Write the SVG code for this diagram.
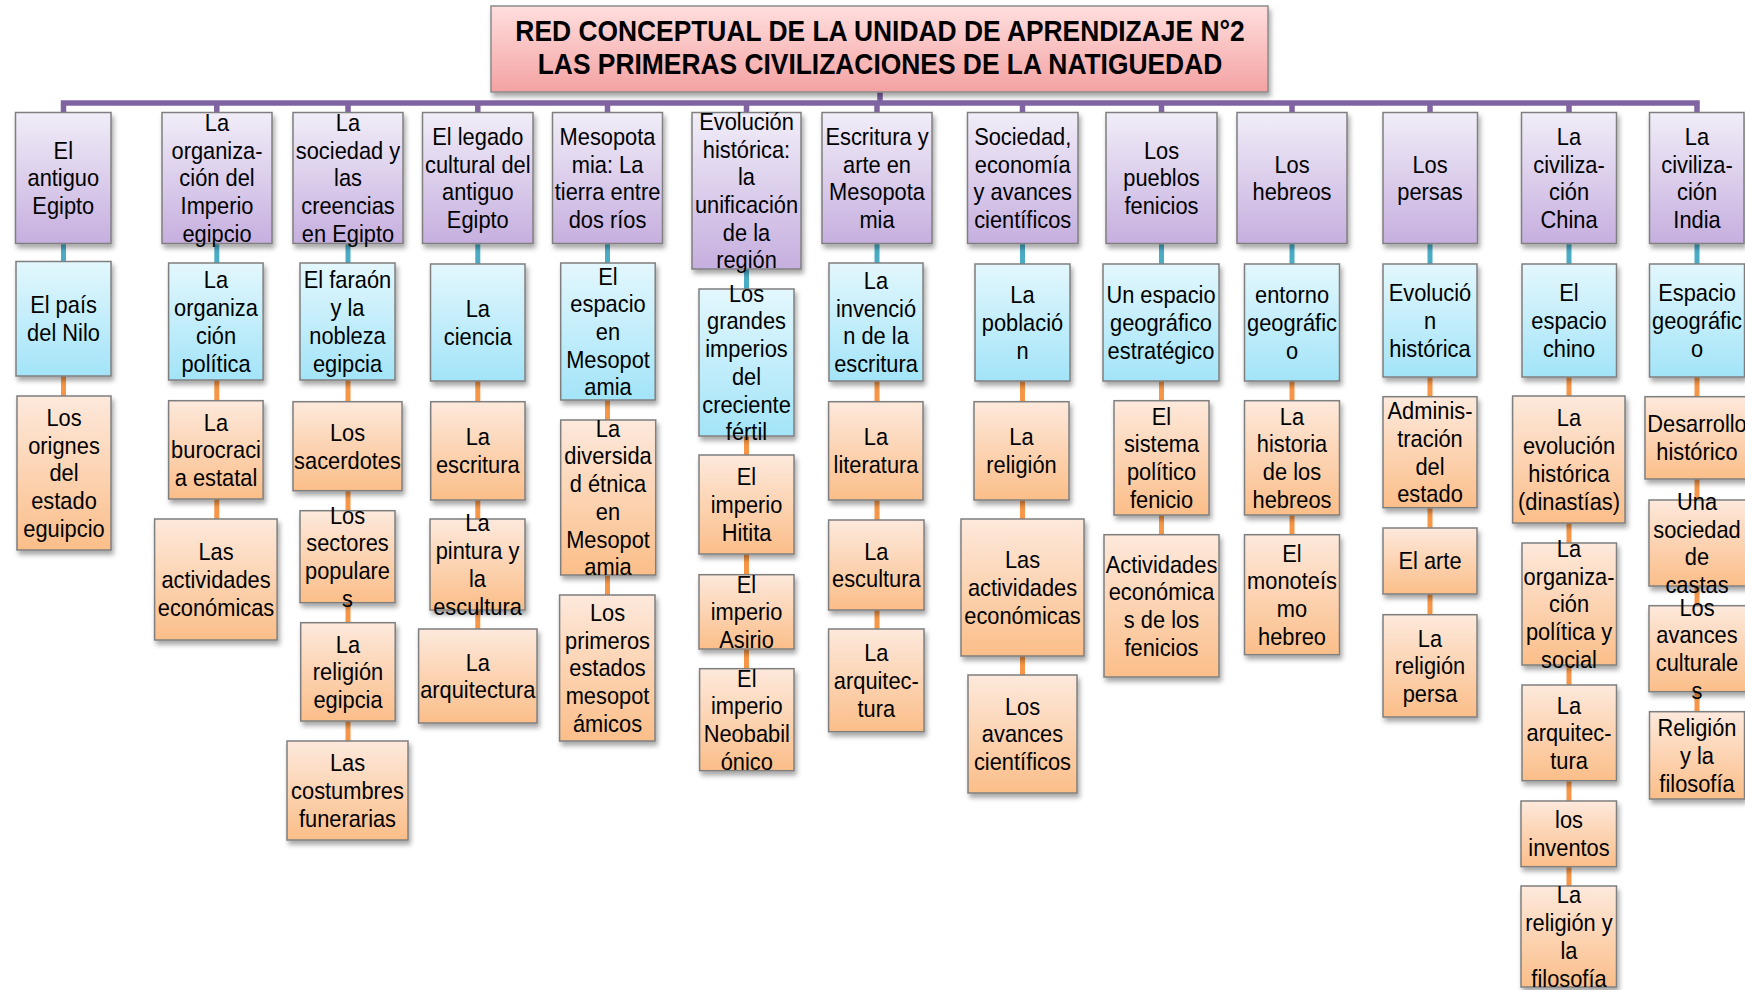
<svg xmlns="http://www.w3.org/2000/svg" width="1745" height="990" viewBox="0 0 1745 990">
<defs>
<linearGradient id="gr" x1="0" y1="0" x2="0" y2="1"><stop offset="0" stop-color="#FFDEDE"/><stop offset="1" stop-color="#F4A2A2"/></linearGradient>
<linearGradient id="gp" x1="0" y1="0" x2="0" y2="1"><stop offset="0" stop-color="#F1EDF8"/><stop offset="1" stop-color="#C6AFDF"/></linearGradient>
<linearGradient id="gc" x1="0" y1="0" x2="0" y2="1"><stop offset="0" stop-color="#E3F7FD"/><stop offset="1" stop-color="#A3E4F8"/></linearGradient>
<linearGradient id="go" x1="0" y1="0" x2="0" y2="1"><stop offset="0" stop-color="#FDE9DC"/><stop offset="1" stop-color="#FBBE89"/></linearGradient>
<filter id="sh" x="-20%" y="-20%" width="140%" height="140%"><feDropShadow dx="2" dy="4" stdDeviation="2.5" flood-color="#000" flood-opacity="0.35"/></filter>
</defs>
<style>
.r{fill:url(#gr);stroke:#8a8a8a;stroke-width:1.5;filter:url(#sh)}
.p{fill:url(#gp);stroke:#7f7f7f;stroke-width:1.5;filter:url(#sh)}
.c{fill:url(#gc);stroke:#7f7f7f;stroke-width:1.5;filter:url(#sh)}
.o{fill:url(#go);stroke:#7f7f7f;stroke-width:1.5;filter:url(#sh)}
.t{font-family:"Liberation Sans",Arial,sans-serif;font-size:24px;fill:#000;text-anchor:middle}
.ti{font-family:"Liberation Sans",Arial,sans-serif;font-size:29px;font-weight:bold;fill:#000;text-anchor:middle}
.lt{stroke:#4BACC6;stroke-width:5}
.lo{stroke:#F79646;stroke-width:5}
.lp{stroke:#8064A2;stroke-width:5.5;fill:none}
</style>
<rect width="1745" height="990" fill="#fff"/>
<g id="connectors">
<path class="lp" d="M880 92V103M63.5 113V103H1697V113M216.8 103V113M348 103V113M477.8 103V113M607.5 103V113M746.5 103V113M877 103V113M1022.5 103V113M1161.5 103V113M1292 103V113M1430 103V113M1569 103V113"/>
<path class="lt" d="M63.5 243V262M216.8 243V264M348 243V264M477.8 243V265M607.5 243V264M746.5 268V290M877 243V264M1022.5 243V265M1161.5 243V265M1292 243V265M1430 243V265M1569 243V265M1697 243V265"/>
<path class="lo" d="M63.5 375V397M216.8 379V401M216.8 498V520M348 379V402M348 490V511M348 602V623M348 720V742M477.8 380V402M477.8 499V520M477.8 609V630M607.5 399V421M607.5 574V596M746.5 435V456M746.5 553V575M746.5 648V669M877 380V402M877 499V521M877 609V630M1022.5 380V402M1022.5 499V520M1022.5 655V676M1161.5 380V401M1161.5 514V535M1292 380V401M1292 514V535M1430 376V397M1430 507V529M1430 593V615M1569 376V397M1569 522V544M1569 664V686M1569 780V802M1569 866V887M1697 376V397M1697 478V501M1697 585V606M1697 691V712"/>
</g>
<g id="title">
<rect class="r" x="491" y="6" width="777" height="86"/>
<text class="ti" transform="translate(880 0) scale(.91 1)"><tspan x="0" y="41.5">RED CONCEPTUAL DE LA UNIDAD DE APRENDIZAJE N°2</tspan><tspan x="0" y="74.5">LAS PRIMERAS CIVILIZACIONES DE LA NATIGUEDAD</tspan></text>
</g>
<g id="n1"><rect class="p" x="15.5" y="112.5" width="95.5" height="131"/><text class="t" transform="translate(63.3 0) scale(.91 1)"><tspan x="0" y="158.8">El</tspan><tspan x="0" dy="27.7">antiguo</tspan><tspan x="0" dy="27.7">Egipto</tspan></text></g>
<g id="n2"><rect class="p" x="162" y="112.5" width="110" height="131"/><text class="t" transform="translate(217 0) scale(.91 1)"><tspan x="0" y="131.1">La</tspan><tspan x="0" dy="27.7">organiza-</tspan><tspan x="0" dy="27.7">ción del</tspan><tspan x="0" dy="27.7">Imperio</tspan><tspan x="0" dy="27.7">egipcio</tspan></text></g>
<g id="n3"><rect class="p" x="293" y="112.5" width="110" height="131"/><text class="t" transform="translate(348 0) scale(.91 1)"><tspan x="0" y="131.1">La</tspan><tspan x="0" dy="27.7">sociedad y</tspan><tspan x="0" dy="27.7">las</tspan><tspan x="0" dy="27.7">creencias</tspan><tspan x="0" dy="27.7">en Egipto</tspan></text></g>
<g id="n4"><rect class="p" x="422.5" y="112.5" width="110.5" height="131"/><text class="t" transform="translate(477.8 0) scale(.91 1)"><tspan x="0" y="144.95">El legado</tspan><tspan x="0" dy="27.7">cultural del</tspan><tspan x="0" dy="27.7">antiguo</tspan><tspan x="0" dy="27.7">Egipto</tspan></text></g>
<g id="n5"><rect class="p" x="552.5" y="112.5" width="110" height="131"/><text class="t" transform="translate(607.5 0) scale(.91 1)"><tspan x="0" y="144.95">Mesopota</tspan><tspan x="0" dy="27.7">mia: La</tspan><tspan x="0" dy="27.7">tierra entre</tspan><tspan x="0" dy="27.7">dos ríos</tspan></text></g>
<g id="n6"><rect class="p" x="692" y="112.5" width="109" height="156.5"/><text class="t" transform="translate(746.5 0) scale(.91 1)"><tspan x="0" y="130">Evolución</tspan><tspan x="0" dy="27.7">histórica:</tspan><tspan x="0" dy="27.7">la</tspan><tspan x="0" dy="27.7">unificación</tspan><tspan x="0" dy="27.7">de la</tspan><tspan x="0" dy="27.7">región</tspan></text></g>
<g id="n7"><rect class="p" x="822" y="112.5" width="110" height="131"/><text class="t" transform="translate(877 0) scale(.91 1)"><tspan x="0" y="144.95">Escritura y</tspan><tspan x="0" dy="27.7">arte en</tspan><tspan x="0" dy="27.7">Mesopota</tspan><tspan x="0" dy="27.7">mia</tspan></text></g>
<g id="n8"><rect class="p" x="967.5" y="112.5" width="110.5" height="131"/><text class="t" transform="translate(1022.7 0) scale(.91 1)"><tspan x="0" y="144.95">Sociedad,</tspan><tspan x="0" dy="27.7">economía</tspan><tspan x="0" dy="27.7">y avances</tspan><tspan x="0" dy="27.7">científicos</tspan></text></g>
<g id="n9"><rect class="p" x="1106" y="112.5" width="111" height="131"/><text class="t" transform="translate(1161.5 0) scale(.91 1)"><tspan x="0" y="158.8">Los</tspan><tspan x="0" dy="27.7">pueblos</tspan><tspan x="0" dy="27.7">fenicios</tspan></text></g>
<g id="n10"><rect class="p" x="1237" y="112.5" width="110" height="131"/><text class="t" transform="translate(1292 0) scale(.91 1)"><tspan x="0" y="172.65">Los</tspan><tspan x="0" dy="27.7">hebreos</tspan></text></g>
<g id="n11"><rect class="p" x="1383" y="112.5" width="94.5" height="131"/><text class="t" transform="translate(1430 0) scale(.91 1)"><tspan x="0" y="172.65">Los</tspan><tspan x="0" dy="27.7">persas</tspan></text></g>
<g id="n12"><rect class="p" x="1521.5" y="112.5" width="95" height="131"/><text class="t" transform="translate(1569 0) scale(.91 1)"><tspan x="0" y="144.95">La</tspan><tspan x="0" dy="27.7">civiliza-</tspan><tspan x="0" dy="27.7">ción</tspan><tspan x="0" dy="27.7">China</tspan></text></g>
<g id="n13"><rect class="p" x="1649.5" y="112.5" width="94.5" height="131"/><text class="t" transform="translate(1697 0) scale(.91 1)"><tspan x="0" y="144.95">La</tspan><tspan x="0" dy="27.7">civiliza-</tspan><tspan x="0" dy="27.7">ción</tspan><tspan x="0" dy="27.7">India</tspan></text></g>
<g id="m1"><rect class="c" x="16" y="261.5" width="95" height="114.5"/><text class="t" transform="translate(63.5 0) scale(.91 1)"><tspan x="0" y="313.4">El país</tspan><tspan x="0" dy="27.7">del Nilo</tspan></text></g>
<g id="m2"><rect class="c" x="168.6" y="263" width="94.5" height="117"/><text class="t" transform="translate(216 0) scale(.91 1)"><tspan x="0" y="288.45">La</tspan><tspan x="0" dy="27.7">organiza</tspan><tspan x="0" dy="27.7">ción</tspan><tspan x="0" dy="27.7">política</tspan></text></g>
<g id="m3"><rect class="c" x="300" y="263" width="95" height="117"/><text class="t" transform="translate(347.5 0) scale(.91 1)"><tspan x="0" y="288.45">El faraón</tspan><tspan x="0" dy="27.7">y la</tspan><tspan x="0" dy="27.7">nobleza</tspan><tspan x="0" dy="27.7">egipcia</tspan></text></g>
<g id="m4"><rect class="c" x="430.5" y="264" width="94.5" height="117"/><text class="t" transform="translate(477.8 0) scale(.91 1)"><tspan x="0" y="317.15">La</tspan><tspan x="0" dy="27.7">ciencia</tspan></text></g>
<g id="m5"><rect class="c" x="560.7" y="263" width="94.5" height="137"/><text class="t" transform="translate(608 0) scale(.91 1)"><tspan x="0" y="284.6">El</tspan><tspan x="0" dy="27.7">espacio</tspan><tspan x="0" dy="27.7">en</tspan><tspan x="0" dy="27.7">Mesopot</tspan><tspan x="0" dy="27.7">amia</tspan></text></g>
<g id="m6"><rect class="c" x="699" y="289" width="95" height="147"/><text class="t" transform="translate(746.5 0) scale(.91 1)"><tspan x="0" y="301.75">Los</tspan><tspan x="0" dy="27.7">grandes</tspan><tspan x="0" dy="27.7">imperios</tspan><tspan x="0" dy="27.7">del</tspan><tspan x="0" dy="27.7">creciente</tspan><tspan x="0" dy="27.7">fértil</tspan></text></g>
<g id="m7"><rect class="c" x="829" y="263" width="94" height="118"/><text class="t" transform="translate(876 0) scale(.91 1)"><tspan x="0" y="288.95">La</tspan><tspan x="0" dy="27.7">invenció</tspan><tspan x="0" dy="27.7">n de la</tspan><tspan x="0" dy="27.7">escritura</tspan></text></g>
<g id="m8"><rect class="c" x="975" y="264" width="95" height="117"/><text class="t" transform="translate(1022.5 0) scale(.91 1)"><tspan x="0" y="303.3">La</tspan><tspan x="0" dy="27.7">població</tspan><tspan x="0" dy="27.7">n</tspan></text></g>
<g id="m9"><rect class="c" x="1103" y="264" width="116" height="117"/><text class="t" transform="translate(1161 0) scale(.91 1)"><tspan x="0" y="303.3">Un espacio</tspan><tspan x="0" dy="27.7">geográfico</tspan><tspan x="0" dy="27.7">estratégico</tspan></text></g>
<g id="m10"><rect class="c" x="1244.5" y="264" width="95" height="117"/><text class="t" transform="translate(1292 0) scale(.91 1)"><tspan x="0" y="303.3">entorno</tspan><tspan x="0" dy="27.7">geográfic</tspan><tspan x="0" dy="27.7">o</tspan></text></g>
<g id="m11"><rect class="c" x="1383" y="264" width="94" height="113"/><text class="t" transform="translate(1430 0) scale(.91 1)"><tspan x="0" y="301.3">Evolució</tspan><tspan x="0" dy="27.7">n</tspan><tspan x="0" dy="27.7">histórica</tspan></text></g>
<g id="m12"><rect class="c" x="1522" y="264" width="94.5" height="113"/><text class="t" transform="translate(1569 0) scale(.91 1)"><tspan x="0" y="301.3">El</tspan><tspan x="0" dy="27.7">espacio</tspan><tspan x="0" dy="27.7">chino</tspan></text></g>
<g id="m13"><rect class="c" x="1649.5" y="264" width="95" height="113"/><text class="t" transform="translate(1697 0) scale(.91 1)"><tspan x="0" y="301.3">Espacio</tspan><tspan x="0" dy="27.7">geográfic</tspan><tspan x="0" dy="27.7">o</tspan></text></g>
<g id="a1"><rect class="o" x="17" y="396" width="94" height="154"/><text class="t" transform="translate(64 0) scale(.91 1)"><tspan x="0" y="426.1">Los</tspan><tspan x="0" dy="27.7">orignes</tspan><tspan x="0" dy="27.7">del</tspan><tspan x="0" dy="27.7">estado</tspan><tspan x="0" dy="27.7">eguipcio</tspan></text></g>
<g id="b1"><rect class="o" x="168.6" y="400.7" width="94.5" height="98.3"/><text class="t" transform="translate(216 0) scale(.91 1)"><tspan x="0" y="430.65">La</tspan><tspan x="0" dy="27.7">burocraci</tspan><tspan x="0" dy="27.7">a estatal</tspan></text></g>
<g id="b2"><rect class="o" x="154.6" y="519" width="122.5" height="121"/><text class="t" transform="translate(216 0) scale(.91 1)"><tspan x="0" y="560.3">Las</tspan><tspan x="0" dy="27.7">actividades</tspan><tspan x="0" dy="27.7">económicas</tspan></text></g>
<g id="c1"><rect class="o" x="293" y="401.7" width="109" height="89"/><text class="t" transform="translate(347.5 0) scale(.91 1)"><tspan x="0" y="440.85">Los</tspan><tspan x="0" dy="27.7">sacerdotes</tspan></text></g>
<g id="c2"><rect class="o" x="300" y="510.7" width="95" height="92"/><text class="t" transform="translate(347.5 0) scale(.91 1)"><tspan x="0" y="523.65">Los</tspan><tspan x="0" dy="27.7">sectores</tspan><tspan x="0" dy="27.7">populare</tspan><tspan x="0" dy="27.7">s</tspan></text></g>
<g id="c3"><rect class="o" x="300.7" y="622.7" width="94.5" height="98.3"/><text class="t" transform="translate(348 0) scale(.91 1)"><tspan x="0" y="652.65">La</tspan><tspan x="0" dy="27.7">religión</tspan><tspan x="0" dy="27.7">egipcia</tspan></text></g>
<g id="c4"><rect class="o" x="287" y="741" width="121" height="99"/><text class="t" transform="translate(347.5 0) scale(.91 1)"><tspan x="0" y="771.3">Las</tspan><tspan x="0" dy="27.7">costumbres</tspan><tspan x="0" dy="27.7">funerarias</tspan></text></g>
<g id="d1"><rect class="o" x="430.7" y="401.7" width="94.3" height="98.3"/><text class="t" transform="translate(477.8 0) scale(.91 1)"><tspan x="0" y="445.5">La</tspan><tspan x="0" dy="27.7">escritura</tspan></text></g>
<g id="d2"><rect class="o" x="430" y="519" width="95" height="91"/><text class="t" transform="translate(477.5 0) scale(.91 1)"><tspan x="0" y="531.45">La</tspan><tspan x="0" dy="27.7">pintura y</tspan><tspan x="0" dy="27.7">la</tspan><tspan x="0" dy="27.7">escultura</tspan></text></g>
<g id="d3"><rect class="o" x="418.6" y="629" width="118.4" height="94"/><text class="t" transform="translate(477.8 0) scale(.91 1)"><tspan x="0" y="670.65">La</tspan><tspan x="0" dy="27.7">arquitectura</tspan></text></g>
<g id="e1"><rect class="o" x="560.7" y="420" width="95" height="155"/><text class="t" transform="translate(608 0) scale(.91 1)"><tspan x="0" y="436.75">La</tspan><tspan x="0" dy="27.7">diversida</tspan><tspan x="0" dy="27.7">d étnica</tspan><tspan x="0" dy="27.7">en</tspan><tspan x="0" dy="27.7">Mesopot</tspan><tspan x="0" dy="27.7">amia</tspan></text></g>
<g id="e2"><rect class="o" x="559.6" y="595" width="95.4" height="146"/><text class="t" transform="translate(607.5 0) scale(.91 1)"><tspan x="0" y="621.1">Los</tspan><tspan x="0" dy="27.7">primeros</tspan><tspan x="0" dy="27.7">estados</tspan><tspan x="0" dy="27.7">mesopot</tspan><tspan x="0" dy="27.7">ámicos</tspan></text></g>
<g id="f1"><rect class="o" x="699" y="455" width="95" height="99"/><text class="t" transform="translate(746.5 0) scale(.91 1)"><tspan x="0" y="485.3">El</tspan><tspan x="0" dy="27.7">imperio</tspan><tspan x="0" dy="27.7">Hitita</tspan></text></g>
<g id="f2"><rect class="o" x="699" y="574.7" width="95" height="74.3"/><text class="t" transform="translate(746.5 0) scale(.91 1)"><tspan x="0" y="592.65">El</tspan><tspan x="0" dy="27.7">imperio</tspan><tspan x="0" dy="27.7">Asirio</tspan></text></g>
<g id="f3"><rect class="o" x="699.6" y="668.7" width="94.4" height="102"/><text class="t" transform="translate(746.8 0) scale(.91 1)"><tspan x="0" y="686.65">El</tspan><tspan x="0" dy="27.7">imperio</tspan><tspan x="0" dy="27.7">Neobabil</tspan><tspan x="0" dy="27.7">ónico</tspan></text></g>
<g id="g1"><rect class="o" x="828.6" y="401.7" width="94.4" height="98.3"/><text class="t" transform="translate(876 0) scale(.91 1)"><tspan x="0" y="445.5">La</tspan><tspan x="0" dy="27.7">literatura</tspan></text></g>
<g id="g2"><rect class="o" x="828.6" y="520" width="95.4" height="90"/><text class="t" transform="translate(876.3 0) scale(.91 1)"><tspan x="0" y="559.65">La</tspan><tspan x="0" dy="27.7">escultura</tspan></text></g>
<g id="g3"><rect class="o" x="828.6" y="629" width="95.4" height="102.7"/><text class="t" transform="translate(876.3 0) scale(.91 1)"><tspan x="0" y="661.15">La</tspan><tspan x="0" dy="27.7">arquitec-</tspan><tspan x="0" dy="27.7">tura</tspan></text></g>
<g id="h1"><rect class="o" x="974" y="401.7" width="95" height="98.3"/><text class="t" transform="translate(1021.5 0) scale(.91 1)"><tspan x="0" y="445.5">La</tspan><tspan x="0" dy="27.7">religión</tspan></text></g>
<g id="h2"><rect class="o" x="961" y="519" width="123" height="137"/><text class="t" transform="translate(1022.5 0) scale(.91 1)"><tspan x="0" y="568.3">Las</tspan><tspan x="0" dy="27.7">actividades</tspan><tspan x="0" dy="27.7">económicas</tspan></text></g>
<g id="h3"><rect class="o" x="968" y="675" width="109" height="118"/><text class="t" transform="translate(1022.5 0) scale(.91 1)"><tspan x="0" y="714.8">Los</tspan><tspan x="0" dy="27.7">avances</tspan><tspan x="0" dy="27.7">científicos</tspan></text></g>
<g id="i1"><rect class="o" x="1114" y="400.7" width="95" height="114.3"/><text class="t" transform="translate(1161.5 0) scale(.91 1)"><tspan x="0" y="424.8">El</tspan><tspan x="0" dy="27.7">sistema</tspan><tspan x="0" dy="27.7">político</tspan><tspan x="0" dy="27.7">fenicio</tspan></text></g>
<g id="i2"><rect class="o" x="1104" y="534.7" width="115" height="142.3"/><text class="t" transform="translate(1161.5 0) scale(.91 1)"><tspan x="0" y="572.8">Actividades</tspan><tspan x="0" dy="27.7">económica</tspan><tspan x="0" dy="27.7">s de los</tspan><tspan x="0" dy="27.7">fenicios</tspan></text></g>
<g id="j1"><rect class="o" x="1244.5" y="400.7" width="95" height="114.3"/><text class="t" transform="translate(1292 0) scale(.91 1)"><tspan x="0" y="424.8">La</tspan><tspan x="0" dy="27.7">historia</tspan><tspan x="0" dy="27.7">de los</tspan><tspan x="0" dy="27.7">hebreos</tspan></text></g>
<g id="j2"><rect class="o" x="1244.5" y="534.7" width="95" height="120"/><text class="t" transform="translate(1292 0) scale(.91 1)"><tspan x="0" y="561.65">El</tspan><tspan x="0" dy="27.7">monoteís</tspan><tspan x="0" dy="27.7">mo</tspan><tspan x="0" dy="27.7">hebreo</tspan></text></g>
<g id="k1"><rect class="o" x="1383" y="396.7" width="94" height="111"/><text class="t" transform="translate(1430 0) scale(.91 1)"><tspan x="0" y="419.15">Adminis-</tspan><tspan x="0" dy="27.7">tración</tspan><tspan x="0" dy="27.7">del</tspan><tspan x="0" dy="27.7">estado</tspan></text></g>
<g id="k2"><rect class="o" x="1383" y="528" width="94" height="66"/><text class="t" transform="translate(1430 0) scale(.91 1)"><tspan x="0" y="569.5">El arte</tspan></text></g>
<g id="k3"><rect class="o" x="1383" y="614.7" width="94" height="102.3"/><text class="t" transform="translate(1430 0) scale(.91 1)"><tspan x="0" y="646.65">La</tspan><tspan x="0" dy="27.7">religión</tspan><tspan x="0" dy="27.7">persa</tspan></text></g>
<g id="l1"><rect class="o" x="1512.6" y="396" width="112.4" height="127"/><text class="t" transform="translate(1569 0) scale(.91 1)"><tspan x="0" y="426.45">La</tspan><tspan x="0" dy="27.7">evolución</tspan><tspan x="0" dy="27.7">histórica</tspan><tspan x="0" dy="27.7">(dinastías)</tspan></text></g>
<g id="l2"><rect class="o" x="1522" y="543" width="94.5" height="122"/><text class="t" transform="translate(1569 0) scale(.91 1)"><tspan x="0" y="557.1">La</tspan><tspan x="0" dy="27.7">organiza-</tspan><tspan x="0" dy="27.7">ción</tspan><tspan x="0" dy="27.7">política y</tspan><tspan x="0" dy="27.7">social</tspan></text></g>
<g id="l3"><rect class="o" x="1522" y="685" width="94.5" height="95.7"/><text class="t" transform="translate(1569 0) scale(.91 1)"><tspan x="0" y="713.65">La</tspan><tspan x="0" dy="27.7">arquitec-</tspan><tspan x="0" dy="27.7">tura</tspan></text></g>
<g id="l4"><rect class="o" x="1521" y="801" width="95.5" height="65.7"/><text class="t" transform="translate(1569 0) scale(.91 1)"><tspan x="0" y="828.5">los</tspan><tspan x="0" dy="27.7">inventos</tspan></text></g>
<g id="l5"><rect class="o" x="1521" y="886" width="95.5" height="101"/><text class="t" transform="translate(1569 0) scale(.91 1)"><tspan x="0" y="903.45">La</tspan><tspan x="0" dy="27.7">religión y</tspan><tspan x="0" dy="27.7">la</tspan><tspan x="0" dy="27.7">filosofía</tspan></text></g>
<g id="o1"><rect class="o" x="1645" y="396.7" width="102" height="82.3"/><text class="t" transform="translate(1697 0) scale(.91 1)"><tspan x="0" y="432.5">Desarrollo</tspan><tspan x="0" dy="27.7">histórico</tspan></text></g>
<g id="o2"><rect class="o" x="1649" y="500" width="98" height="86"/><text class="t" transform="translate(1697 0) scale(.91 1)"><tspan x="0" y="509.95">Una</tspan><tspan x="0" dy="27.7">sociedad</tspan><tspan x="0" dy="27.7">de</tspan><tspan x="0" dy="27.7">castas</tspan></text></g>
<g id="o3"><rect class="o" x="1649" y="605.7" width="98" height="86"/><text class="t" transform="translate(1697 0) scale(.91 1)"><tspan x="0" y="615.65">Los</tspan><tspan x="0" dy="27.7">avances</tspan><tspan x="0" dy="27.7">culturale</tspan><tspan x="0" dy="27.7">s</tspan></text></g>
<g id="o4"><rect class="o" x="1649.5" y="711.7" width="95" height="87.3"/><text class="t" transform="translate(1697 0) scale(.91 1)"><tspan x="0" y="736.15">Religión</tspan><tspan x="0" dy="27.7">y la</tspan><tspan x="0" dy="27.7">filosofía</tspan></text></g>
</svg>
